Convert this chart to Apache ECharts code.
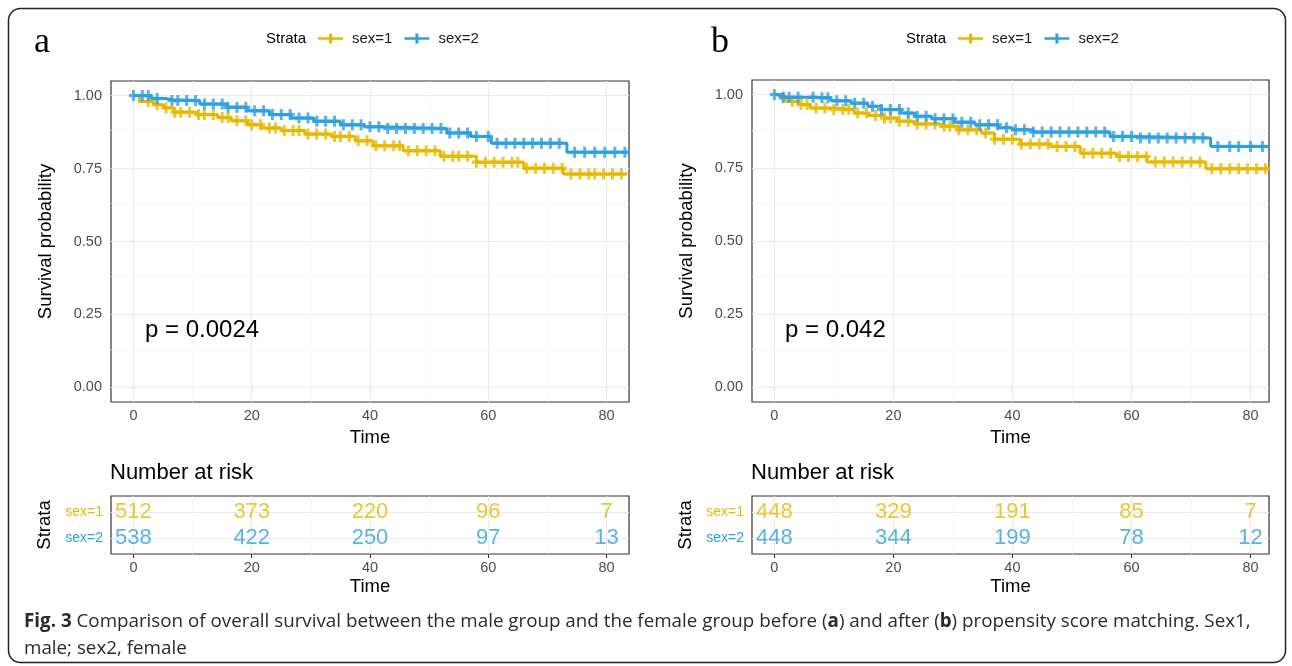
<!DOCTYPE html>
<html>
<head>
<meta charset="utf-8">
<script src="https://cdn.jsdelivr.net/npm/echarts@6/dist/echarts.min.js"></script>
<style>
  html, body { margin: 0; padding: 0; background: #fff; }
  #chart { width: 1292px; height: 666px; }
</style>
</head>
<body>
<div id="chart"></div>
<script>
const GOLD = '#E7B800'
const BLUE = '#2E9FDF'
const FONT = '"Liberation Sans", Arial, sans-serif'

const timeTicks = [0, 20, 40, 60, 80]
const timeMinor = [10, 30, 50, 70]
const survTicks = [0, 0.25, 0.5, 0.75, 1]
const survMinor = [0.125, 0.375, 0.625, 0.875]
const strata = ['sex=1', 'sex=2']

// panel a: before matching, KM steps [time, survival]
const kmA1 = [[0, 1], [1, 0.98], [3.4, 0.969], [5.1, 0.958], [6.8, 0.943], [10.8, 0.935], [14.2, 0.925],
  [16.5, 0.914], [19.3, 0.9], [21.6, 0.889], [25, 0.88], [29, 0.868], [33.5, 0.86], [37.5, 0.845],
  [40.5, 0.828], [45.6, 0.811], [51.9, 0.792], [58, 0.772], [66, 0.751], [72.7, 0.731], [83.5, 0.731]]
const kmA2 = [[0, 1], [3, 0.99], [5.5, 0.986], [6.5, 0.983], [11.2, 0.971], [15.8, 0.96], [19.2, 0.948],
  [23, 0.935], [26.6, 0.923], [30.5, 0.912], [35, 0.9], [39, 0.893], [41.7, 0.887], [53, 0.872],
  [57, 0.86], [60.5, 0.837], [73.3, 0.806], [83.5, 0.806]]
// censoring times
const cA1 = [2.5, 4, 5.5, 7, 8, 9.5, 11, 12, 13.5, 15, 16, 17.5, 19, 20, 21.5, 23, 24, 25.5, 27, 28, 29.5,
  31, 32.5, 34, 35, 36.5, 38, 39.5, 41, 42.5, 44, 45, 46.5, 48, 49.5, 51, 52.5, 54, 55, 56.5, 58, 59.5,
  61, 62.5, 64, 65, 66.5, 68, 69.5, 71, 72.5, 74, 75.5, 77, 78, 79.5, 81, 82.5]
const cA2 = [0, 1.5, 2.5, 4, 6.5, 7.5, 9, 10.5, 12, 13.5, 15, 16, 17.5, 19, 20.5, 22, 23.5, 25, 26.5, 28,
  29.5, 31, 32.5, 34, 35.5, 37, 38.5, 40, 41.5, 43, 44.5, 46, 47.5, 49, 50.5, 52, 53.5, 55, 56.5, 58, 60,
  61.5, 63, 64.5, 66, 67.5, 69, 70.5, 72, 74.6, 76.3, 78, 79.7, 81.4, 83.1]
const riskA1 = [512, 373, 220, 96, 7]
const riskA2 = [538, 422, 250, 97, 13]

// panel b: after propensity score matching
const kmB1 = [[0, 1], [1, 0.989], [2, 0.977], [4, 0.966], [6, 0.954], [10, 0.949], [13.4, 0.937],
  [15.7, 0.929], [18.5, 0.92], [20.7, 0.909], [23.5, 0.9], [28, 0.892], [30.9, 0.88], [34.8, 0.869],
  [37, 0.848], [41.3, 0.831], [46.4, 0.823], [51.4, 0.8], [57.5, 0.789], [62.6, 0.77], [72.5, 0.747],
  [83, 0.747]]
const kmB2 = [[0, 1], [1.5, 0.991], [6.7, 0.989], [9.5, 0.979], [12.9, 0.971], [15.7, 0.96], [18, 0.949],
  [21.3, 0.937], [23.6, 0.926], [26.4, 0.918], [30.3, 0.906], [33.7, 0.897], [37.6, 0.887], [40, 0.88],
  [43.5, 0.872], [56.4, 0.857], [61.5, 0.852], [73.3, 0.823], [83.3, 0.823]]
const cB1 = [1.5, 3, 4.5, 5.5, 7, 8.5, 10, 11.5, 12.5, 14, 15.5, 17, 18.5, 19.5, 21, 22.5, 24, 25.5, 27,
  28.5, 29.5, 31, 32.5, 34, 35.5, 37, 38.5, 40, 41.5, 43, 44.5, 46, 47.5, 49, 50.5, 52, 53.5, 55, 56.5,
  58, 59.5, 61, 62.5, 64, 65.5, 67, 68.5, 70, 71.5, 73.5, 75, 76.5, 78, 79.5, 81, 82.5]
const cB2 = [0, 1.5, 2.5, 4, 6.5, 8, 9, 10.5, 12, 13.5, 15, 16.5, 18, 19.5, 21, 22.5, 24, 25.5, 27, 28.5,
  30, 31.5, 33, 34.5, 36, 37.5, 39, 40.5, 42, 43.5, 45, 46.5, 48, 49.5, 51, 52.5, 54, 55.5, 57, 58.5, 60,
  61.5, 63, 64.5, 66, 67.5, 69, 70.5, 72, 74.5, 76.5, 78, 80, 82]
const riskB1 = [448, 329, 191, 85, 7]
const riskB2 = [448, 344, 199, 78, 12]

const riskTimes = [0, 20, 40, 60, 80]

const PLUS = 'path://M3,0 H6 V3.5 H9 V6.5 H6 V10 H3 V6.5 H0 V3.5 H3 Z'
const LEGEND_ICON = 'path://M0,3.7 H11 V0 H14 V3.7 H25 V6.3 H14 V10 H11 V6.3 H0 Z'

const stepAt = (km, t) => {
  let v = km[0][1]
  for (const [x, y] of km) {
    if (x <= t) v = y
    else break
  }
  return v
}

const panels = [
  { plot: { left: 111, top: 81, width: 518, height: 321 }, risk: { left: 111, top: 496, width: 518, height: 58 },
    xMin: -3.8, xMax: 83.8, km: [kmA1, kmA2], cens: [cA1, cA2], risk1: riskA1, risk2: riskA2 },
  { plot: { left: 752, top: 80, width: 517, height: 322 }, risk: { left: 752, top: 496, width: 517, height: 58 },
    xMin: -3.75, xMax: 83.1, km: [kmB1, kmB2], cens: [cB1, cB2], risk1: riskB1, risk2: riskB2 },
]

const major = { color: '#EBEBEB', width: 1.1, type: 'solid' }
const minor = { color: '#F4F4F4', width: 0.7, type: 'solid' }

const grid = []
const xAxis = []
const yAxis = []
const series = []

panels.forEach((p, k) => {
  const gPlot = k * 2
  const gRisk = k * 2 + 1
  grid.push({ ...p.plot, show: true, backgroundColor: '#fff', borderColor: '#333', borderWidth: 1.2 })
  grid.push({ ...p.risk, show: true, backgroundColor: '#fff', borderColor: '#333', borderWidth: 1.2 })

  const xBase = {
    type: 'value', min: p.xMin, max: p.xMax,
    axisLine: { show: false }, splitLine: { show: false },
    axisTick: { show: true, customValues: timeTicks, length: 4, lineStyle: { color: '#333', width: 1.1 } },
    axisLabel: { customValues: timeTicks, color: '#4D4D4D', fontSize: 14.5, fontFamily: FONT, margin: 6 },
    name: 'Time', nameLocation: 'middle',
    nameTextStyle: { color: '#000', fontSize: 18.5, fontFamily: FONT },
  }
  xAxis.push({ ...xBase, gridIndex: gPlot, nameGap: 26 })
  xAxis.push({ ...xBase, gridIndex: gRisk, nameGap: 23 })

  yAxis.push({
    type: 'value', gridIndex: gPlot, min: -0.05, max: 1.05,
    axisLine: { show: false }, splitLine: { show: false },
    axisTick: { show: true, customValues: survTicks, length: 4, lineStyle: { color: '#333', width: 1.1 } },
    axisLabel: { customValues: survTicks, color: '#4D4D4D', fontSize: 14.5, fontFamily: FONT, margin: 9,
      formatter: v => v.toFixed(2) },
    name: 'Survival probability', nameLocation: 'middle', nameGap: 56,
    nameTextStyle: { color: '#000', fontSize: 18.5, fontFamily: FONT },
  })
  yAxis.push({
    type: 'value', gridIndex: gRisk, min: 0.4, max: 2.6,
    axisLine: { show: false }, splitLine: { show: false },
    axisTick: { show: true, customValues: [1, 2], length: 4, lineStyle: { color: '#333', width: 1.1 } },
    axisLabel: { customValues: [1, 2], fontSize: 14, fontFamily: FONT, margin: 8,
      formatter: v => (v === 2 ? '{g|' + strata[0] + '}' : '{b|' + strata[1] + '}'),
      rich: { g: { color: GOLD, fontSize: 14, fontFamily: FONT }, b: { color: BLUE, fontSize: 14, fontFamily: FONT } } },
    name: 'Strata', nameLocation: 'middle', nameGap: 57,
    nameTextStyle: { color: '#000', fontSize: 18.5, fontFamily: FONT },
  })

  // background grid lines (drawn under the curves)
  series.push({
    type: 'line', xAxisIndex: gPlot, yAxisIndex: gPlot, data: [], silent: true, z: 1,
    markLine: {
      symbol: 'none', silent: true, animation: false, label: { show: false }, z: 1,
      data: [
        ...timeMinor.map(v => ({ xAxis: v, lineStyle: minor })),
        ...survMinor.map(v => ({ yAxis: v, lineStyle: minor })),
        ...timeTicks.map(v => ({ xAxis: v, lineStyle: major })),
        ...survTicks.map(v => ({ yAxis: v, lineStyle: major })),
      ],
    },
  })
  series.push({
    type: 'line', xAxisIndex: gRisk, yAxisIndex: gRisk, data: [], silent: true, z: 1,
    markLine: {
      symbol: 'none', silent: true, animation: false, label: { show: false }, z: 1,
      data: [
        ...timeMinor.map(v => ({ xAxis: v, lineStyle: minor })),
        ...timeTicks.map(v => ({ xAxis: v, lineStyle: major })),
        ...[1, 2].map(v => ({ yAxis: v, lineStyle: major })),
      ],
    },
  })

  const colors = [GOLD, BLUE]
  p.km.forEach((km, i) => {
    series.push({
      name: strata[i], type: 'line', xAxisIndex: gPlot, yAxisIndex: gPlot, step: 'end',
      data: km, showSymbol: false, z: 10 + i * 2,
      color: colors[i], lineStyle: { color: colors[i], width: 3 },
    })
    series.push({
      name: 'censor ' + strata[i], type: 'scatter', xAxisIndex: gPlot, yAxisIndex: gPlot, z: 11 + i * 2,
      symbol: PLUS, symbolSize: [9, 11], itemStyle: { color: colors[i] },
      data: p.cens[i].map(t => [t, stepAt(km, t)]),
    })
  })

  ;[p.risk1, p.risk2].forEach((vals, i) => {
    series.push({
      name: 'risk ' + strata[i], type: 'scatter', xAxisIndex: gRisk, yAxisIndex: gRisk, z: 10,
      symbolSize: 1, itemStyle: { color: 'rgba(0,0,0,0)' },
      label: { show: true, position: 'inside', formatter: d => d.value[2], color: colors[i],
        fontSize: 22, fontFamily: FONT, textBorderWidth: 0 },
      data: riskTimes.map((t, j) => [t, i === 0 ? 2 : 1, vals[j]]),
    })
  })
})

const legendBase = {
  data: strata, icon: LEGEND_ICON, itemWidth: 25, itemHeight: 10, itemGap: 12, top: 31, padding: 0,
  selectedMode: false,
  textStyle: { color: '#1a1a1a', fontSize: 15, fontFamily: FONT, padding: [0, 0, 0, 4] },
}

const txt = (x, y, text, size, extra) => ({
  type: 'text', x, y, z: 100, silent: true,
  style: { text, fontSize: size, fontFamily: FONT, fill: '#000', verticalAlign: 'middle', ...extra },
})

const chart = echarts.init(document.getElementById('chart'))
chart.setOption({
  animation: false,
  backgroundColor: '#fff',
  grid, xAxis, yAxis, series,
  legend: [{ ...legendBase, left: 318 }, { ...legendBase, left: 958 }],
  graphic: [
    { type: 'rect', silent: true, z: 100, shape: { x: 8.5, y: 8.5, width: 1277, height: 654, r: 12 },
      style: { fill: 'none', stroke: '#222', lineWidth: 1.5 } },
    txt(34, 43, 'a', 36, { fontFamily: '"Liberation Serif", serif' }),
    txt(711, 43, 'b', 36, { fontFamily: '"Liberation Serif", serif' }),
    txt(266, 39, 'Strata', 15),
    txt(906, 39, 'Strata', 15),
    txt(145, 330, 'p = 0.0024', 24),
    txt(785, 330, 'p = 0.042', 24),
    txt(110, 473, 'Number at risk', 22),
    txt(751, 473, 'Number at risk', 22),
    {
      type: 'text', x: 24, y: 608, z: 100, silent: true,
      style: {
        text: '{b|Fig. 3} Comparison of overall survival between the male group and the female group before ({b|a}) and after ({b|b}) propensity score matching. Sex1,\nmale; sex2, female',
        fontSize: 18.8, fontFamily: '"Open Sans", sans-serif', fill: '#2a2a2a', lineHeight: 27, verticalAlign: 'top',
        rich: { b: { fontWeight: 'bold', fontSize: 18.8, fontFamily: '"Open Sans", sans-serif', fill: '#2a2a2a', lineHeight: 27 } },
      },
    },
  ],
})
</script>
</body>
</html>
